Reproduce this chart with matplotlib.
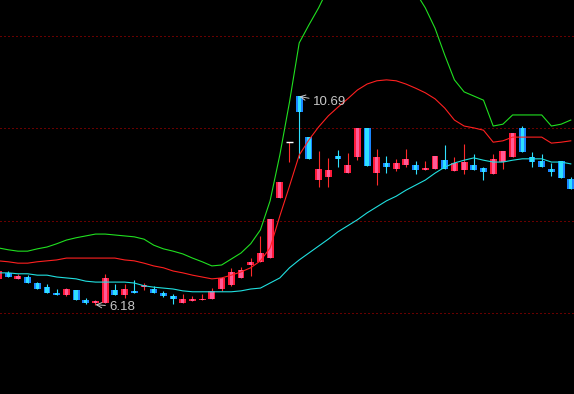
import numpy as np
import matplotlib
matplotlib.use('Agg')
import matplotlib.pyplot as plt

# ==========================================
# 1. 데이터 (K线: 开 / 高 / 低 / 收)
# ==========================================
open_ = np.array([6.74, 6.87, 6.74, 6.78, 6.65, 6.56, 6.43, 6.39, 6.50, 6.28,
                  6.22, 6.22, 6.50, 6.39, 6.48, 6.56, 6.52, 6.43, 6.37, 6.22,
                  6.26, 6.28, 6.30, 6.52, 6.61, 6.76, 7.04, 7.11, 7.19, 8.49,
                  9.70, 10.69, 9.81, 8.88, 8.95, 9.40, 9.03, 9.38, 10.01, 9.03,
                  9.25, 9.12, 9.21, 9.21, 9.10, 9.12, 9.31, 9.08, 9.10, 9.21,
                  9.14, 9.01, 9.27, 9.38, 10.01, 9.38, 9.29, 9.12, 9.29, 8.90])
high = np.array([6.93, 6.91, 6.85, 6.82, 6.67, 6.63, 6.52, 6.54, 6.50, 6.33,
                 6.28, 6.85, 6.63, 6.63, 6.72, 6.65, 6.59, 6.48, 6.41, 6.41,
                 6.37, 6.41, 6.54, 6.78, 6.98, 7.00, 7.19, 7.67, 8.04, 8.84,
                 9.70, 10.69, 9.81, 9.51, 9.36, 9.53, 9.47, 10.01, 10.01, 9.55,
                 9.40, 9.34, 9.55, 9.29, 9.29, 9.40, 9.64, 9.38, 9.66, 9.44,
                 9.16, 9.44, 9.51, 9.90, 10.05, 9.49, 9.44, 9.25, 9.29, 8.95])
low = np.array([6.74, 6.78, 6.74, 6.65, 6.52, 6.43, 6.39, 6.37, 6.28, 6.19,
                6.18, 6.22, 6.39, 6.33, 6.43, 6.50, 6.43, 6.35, 6.20, 6.22,
                6.26, 6.28, 6.30, 6.48, 6.59, 6.76, 6.80, 7.11, 7.19, 8.49,
                9.27, 9.36, 9.34, 8.73, 8.73, 9.16, 9.03, 9.31, 9.18, 8.77,
                9.03, 9.08, 9.16, 9.01, 9.10, 9.12, 9.12, 9.08, 9.01, 9.10,
                8.88, 9.01, 9.12, 9.38, 9.49, 9.16, 9.16, 8.97, 8.92, 8.69])
close = np.array([6.91, 6.78, 6.80, 6.65, 6.52, 6.43, 6.39, 6.52, 6.28, 6.21,
                  6.26, 6.76, 6.39, 6.52, 6.43, 6.61, 6.43, 6.37, 6.30, 6.30,
                  6.30, 6.31, 6.48, 6.76, 6.89, 6.93, 7.11, 7.30, 8.04, 8.84,
                  9.70, 10.35, 9.34, 9.12, 9.10, 9.34, 9.21, 10.01, 9.18, 9.38,
                  9.16, 9.25, 9.34, 9.10, 9.14, 9.40, 9.12, 9.25, 9.27, 9.10,
                  9.05, 9.34, 9.51, 9.90, 9.49, 9.27, 9.16, 9.05, 8.92, 8.69])

# BOLL 上轨 / 中轨 / 下轨
boll_up = np.array([7.41, 7.37, 7.34, 7.34, 7.39, 7.43, 7.50, 7.58, 7.63, 7.67,
                    7.71, 7.71, 7.69, 7.67, 7.65, 7.60, 7.47, 7.39, 7.34, 7.28,
                    7.19, 7.11, 7.02, 7.04, 7.17, 7.30, 7.50, 7.80, 8.43, 9.42,
                    10.57, 11.85, 12.24, 12.61, 13.04, 13.21, 13.36, 13.54, 13.69, 13.75,
                    13.69, 13.54, 13.26, 12.95, 12.61, 12.17, 11.59, 11.05, 10.79, 10.70,
                    10.61, 10.05, 10.09, 10.29, 10.29, 10.29, 10.29, 10.05, 10.09, 10.18])
boll_mid = np.array([7.13, 7.11, 7.08, 7.08, 7.11, 7.13, 7.15, 7.19, 7.19, 7.19,
                     7.19, 7.19, 7.19, 7.15, 7.13, 7.08, 7.02, 6.98, 6.91, 6.87,
                     6.82, 6.78, 6.74, 6.76, 6.82, 6.89, 6.98, 7.13, 7.41, 8.10,
                     8.75, 9.42, 9.75, 10.03, 10.27, 10.46, 10.64, 10.83, 10.96, 11.03,
                     11.05, 11.03, 10.96, 10.87, 10.77, 10.64, 10.44, 10.18, 10.05, 10.01,
                     9.96, 9.70, 9.73, 9.81, 9.81, 9.81, 9.81, 9.68, 9.70, 9.73])
boll_low = np.array([6.87, 6.87, 6.85, 6.85, 6.82, 6.82, 6.78, 6.76, 6.74, 6.69,
                     6.67, 6.67, 6.67, 6.67, 6.65, 6.59, 6.56, 6.54, 6.52, 6.48,
                     6.46, 6.46, 6.46, 6.46, 6.46, 6.48, 6.52, 6.54, 6.65, 6.76,
                     6.98, 7.15, 7.30, 7.45, 7.60, 7.76, 7.89, 8.02, 8.17, 8.30,
                     8.43, 8.53, 8.66, 8.77, 8.88, 9.03, 9.16, 9.25, 9.31, 9.36,
                     9.31, 9.27, 9.27, 9.31, 9.34, 9.34, 9.34, 9.27, 9.27, 9.23])

grid_prices = [6, 8, 10, 12]

# ==========================================
# 2. 설정
# ==========================================
BODY_W = 0.72
INNER_W = 0.34
RED_EDGE, RED_FILL, RED_WICK = '#ff1a3a', '#ff5a96', '#ff2a2a'
BLUE_EDGE, BLUE_FILL, BLUE_WICK = '#1a86ff', '#2ee0ff', '#30e0ff'
TEXT_C = '#c8c8c8'

x = np.arange(len(open_))
up = close > open_
down = close < open_
flat = close == open_

# ==========================================
# 3. 그리기
# ==========================================
fig = plt.figure(figsize=(5.74, 3.94), dpi=100, facecolor='black')
ax = fig.add_axes([0, 0, 1, 1])
ax.set_facecolor('black')
ax.set_xlim(0.155, 59.33)
ax.set_ylim(4.246, 12.78)
ax.axis('off')

for p in grid_prices:
    ax.axhline(p, color='#d00000', lw=0.72, linestyle=(0, (1, 3)), zorder=1)

# 影线
ax.vlines(x[up | flat], low[up | flat], high[up | flat], colors=RED_WICK, lw=0.8, zorder=2)
ax.vlines(x[down], low[down], high[down], colors=BLUE_WICK, lw=0.8, zorder=2)

# 阳线 (红)
ax.bar(x[up], (close - open_)[up], bottom=open_[up], width=BODY_W, color=RED_EDGE, lw=0, zorder=3)
ax.bar(x[up], (close - open_)[up], bottom=open_[up], width=INNER_W, color=RED_FILL, lw=0, zorder=4)
# 阴线 (蓝)
ax.bar(x[down], (open_ - close)[down], bottom=close[down], width=BODY_W, color=BLUE_EDGE, lw=0, zorder=3)
ax.bar(x[down], (open_ - close)[down], bottom=close[down], width=INNER_W, color=BLUE_FILL, lw=0, zorder=4)
# 十字
ax.hlines(open_[flat], x[flat] - BODY_W / 2, x[flat] + BODY_W / 2, colors='white', lw=1.0, zorder=4)

# BOLL
ax.plot(x, boll_up, color='#20e020', lw=0.8, zorder=5)
ax.plot(x, boll_mid, color='#ff2020', lw=0.8, zorder=5)
ax.plot(x, boll_low, color='#20e0e0', lw=0.8, zorder=5)

# 最高 / 最低 标注
fam = ['Liberation Sans', 'DejaVu Sans']
i_hi = int(np.argmax(high))
i_lo = int(np.argmin(low))
arrow = dict(arrowstyle='->', color=TEXT_C, lw=0.7, shrinkA=1, shrinkB=0)
ax.annotate(f'{high[i_hi]:.2f}', xy=(i_hi, high[i_hi]), xytext=(14, -5.5),
            textcoords='offset pixels', ha='left', va='center',
            color=TEXT_C, fontsize=9.5, family=fam, arrowprops=arrow, zorder=6)
ax.annotate(f'{low[i_lo]:.2f}', xy=(i_lo, low[i_lo]), xytext=(14, -2),
            textcoords='offset pixels', ha='left', va='center',
            color=TEXT_C, fontsize=9.5, family=fam, arrowprops=arrow, zorder=6)

fig.savefig('out.png', dpi=100, facecolor='black')
